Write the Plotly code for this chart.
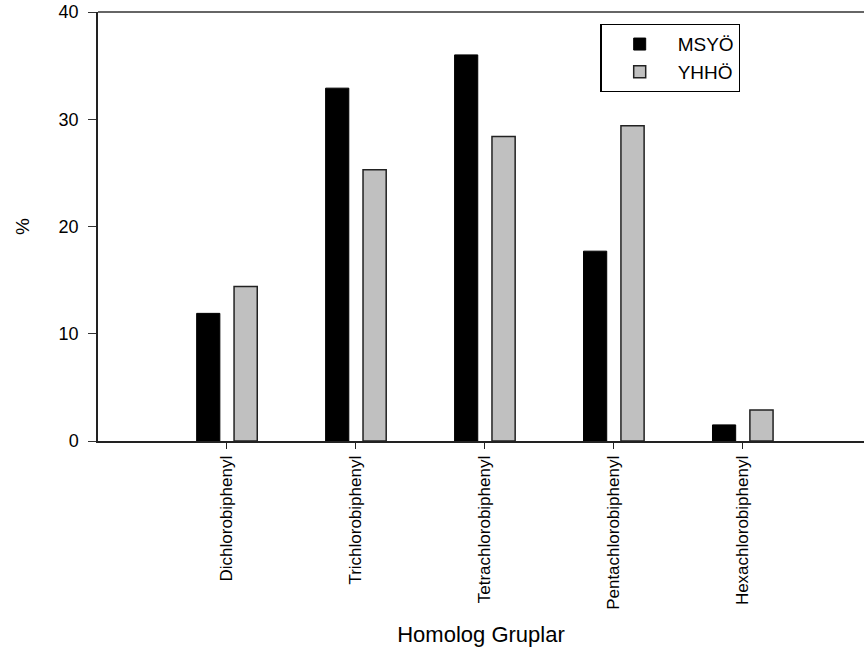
import plotly.graph_objects as go

# PCB homolog group distribution (%)
categories = ["Dichlorobiphenyl", "Trichlorobiphenyl", "Tetrachlorobiphenyl",
              "Pentachlorobiphenyl", "Hexachlorobiphenyl"]
msyo = [11.9, 32.9, 36.0, 17.7, 1.5]
yhho = [14.4, 25.3, 28.4, 29.4, 2.9]
y_ticks = [0, 10, 20, 30, 40]

x_pos = list(range(len(categories)))
font = "Liberation Sans, Arial, sans-serif"

fig = go.Figure()
fig.add_trace(go.Bar(x=x_pos, y=msyo, name="MSYÖ",
                     marker=dict(color="black", line=dict(color="black", width=1))))
fig.add_trace(go.Bar(x=x_pos, y=yhho, name="YHHÖ",
                     marker=dict(color="#c0c0c0", line=dict(color="#222222", width=1.5))))

fig.update_layout(
    width=864, height=652,
    margin=dict(l=98, r=0, t=12, b=211),
    paper_bgcolor="white", plot_bgcolor="white",
    barmode="group", bargap=0.42, bargroupgap=0.38,
    font=dict(family=font, color="black", size=16),
    legend=dict(x=0.656, y=0.972, xanchor="left", yanchor="top",
                bgcolor="white", bordercolor="black", borderwidth=1.2,
                font=dict(size=19), itemwidth=66, tracegroupgap=0),
    xaxis=dict(
        range=[-1.0, 4.94], tickmode="array", tickvals=x_pos, ticktext=categories,
        tickangle=-90, ticks="outside", ticklen=6, tickcolor="#222222",
        showline=True, linecolor="#222222", linewidth=2,
        showgrid=False, zeroline=False, tickfont=dict(size=17),
        title=dict(text="Homolog Gruplar", font=dict(size=22), standoff=18),
    ),
    yaxis=dict(
        range=[0, 40], tickvals=y_ticks, ticks="outside", ticklen=8, tickcolor="#333333",
        showline=True, linecolor="#222222", linewidth=1.5,
        showgrid=False, zeroline=False, tickfont=dict(size=18), ticklabelstandoff=6,
        title=dict(text="%", font=dict(size=19), standoff=24),
    ),
    # thin grey frame line along the top of the plotting area
    shapes=[dict(type="line", xref="paper", yref="paper", x0=0, x1=1, y0=1, y1=1,
                 line=dict(color="#666666", width=2))],
)

fig.write_html("out.html")
